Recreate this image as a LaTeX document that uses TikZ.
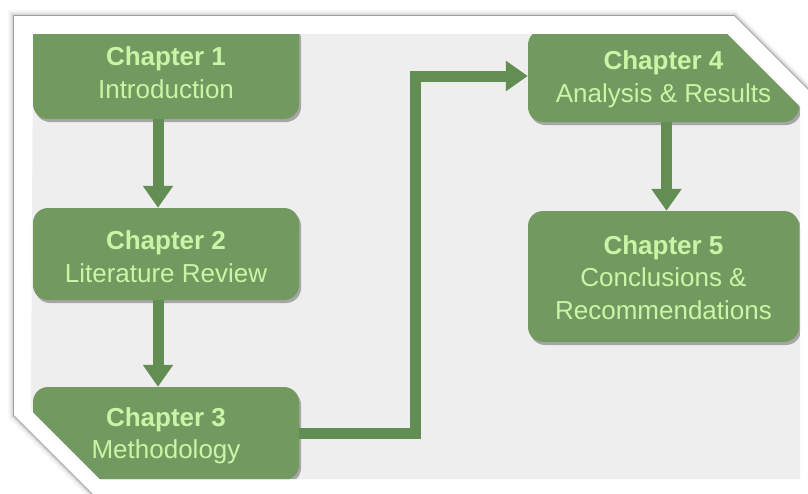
\documentclass[tikz,border=0pt]{standalone}
\usepackage{fontspec}
\setmainfont{Liberation Sans}
\usetikzlibrary{arrows.meta,shadows}
\definecolor{boxgreen}{HTML}{72995F}
\definecolor{txtgreen}{HTML}{CBF5A6}
\definecolor{arrgreen}{HTML}{638E53}
\definecolor{panel}{HTML}{EEEEEE}
\begin{document}
\begin{tikzpicture}[x=1pt,y=-1pt,
  chap/.style={fill=boxgreen, rounded corners=15pt, inner sep=0pt,
    drop shadow={shadow xshift=2pt, shadow yshift=-3pt, opacity=0.3, fill=black}},
  chaptext/.style={text=txtgreen, align=center, inner sep=0pt,
    font=\fontsize{26}{32.5}\selectfont, yshift=-2.5pt},
  conn/.style={draw=arrgreen, line width=11pt, -{Triangle[width=29pt,length=22pt]}},
  framepath/.style={line join=miter}]
\useasboundingbox (0,0) rectangle (808,493);
\fill[white] (0,0) rectangle (808,493);
% outer frame shadow
\foreach \w/\o in {12/0.03,8/0.05,5/0.07,2.5/0.12,1.2/0.25}{
  \draw[black, opacity=\o, line width=\w pt, framepath]
    (14,16) -- (734,16) -- (820,102) -- (820,505) -- (104,505) -- (14,415) -- cycle;}
\fill[white] (14,16) -- (734,16) -- (820,102) -- (820,505) -- (104,505) -- (14,415) -- cycle;
\begin{scope}
  \clip (33,34) -- (727,34) -- (800,107) -- (800,479) -- (100,479) -- (31,410) -- cycle;
  \fill[panel] (0,0) rectangle (808,493);
  \node[chap, minimum width=266pt, minimum height=98pt] (b1) at (166,70) {};
  \node[chap, minimum width=266pt, minimum height=92pt] (b2) at (166,254) {};
  \node[chap, minimum width=266pt, minimum height=93pt] (b3) at (166,433.5) {};
  \node[chap, minimum width=271pt, minimum height=92pt] (b4) at (663.5,76) {};
  \node[chap, minimum width=271pt, minimum height=131pt] (b5) at (663.5,276.5) {};
  \node[chaptext] (t1) at (b1.center) {\textbf{Chapter 1}\\Introduction};
  \node[chaptext] (t2) at (b2.center) {\textbf{Chapter 2}\\Literature Review};
  \node[chaptext] (t3) at (b3.center) {\textbf{Chapter 3}\\Methodology};
  \node[chaptext, yshift=-1pt] (t4) at (b4.center) {\textbf{Chapter 4}\\Analysis \& Results};
  \node[chaptext, yshift=1.5pt] (t5) at (b5.center) {\textbf{Chapter 5}\\Conclusions \&\\Recommendations};
  \coordinate (mid) at (415,250);
  \draw[conn] ([xshift=-8pt]b1.south) -- ([xshift=-8pt]b2.north);
  \draw[conn] ([xshift=-8pt]b2.south) -- ([xshift=-8pt]b3.north);
  \draw[conn] ([xshift=3pt]b4.south) -- ([xshift=3pt]b5.north);
  \draw[conn, line join=miter] (b3.east) -- (b3.east -| mid) -- (b4.west -| mid) -- (b4.west);
\end{scope}
\end{tikzpicture}
\end{document}
